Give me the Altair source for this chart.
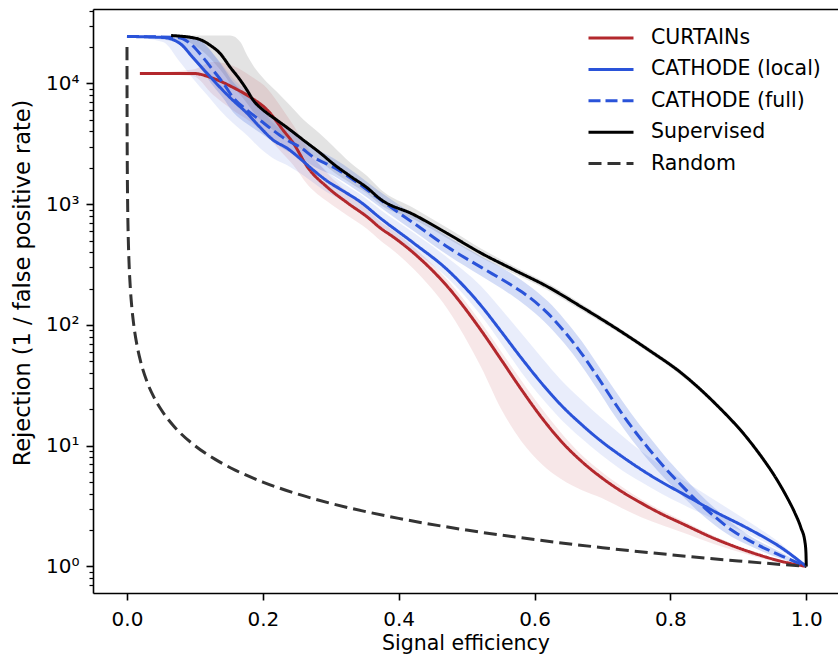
import altair as alt
import pandas as pd

# ---------------- data ----------------
series_names = ["CURTAINs", "CATHODE (local)", "CATHODE (full)", "Supervised", "Random"]
series_colors = ["#b3282d", "#2a53d9", "#2a53d9", "#000000", "#333333"]
series_dashes = [[1, 0], [1, 0], [12, 5], [1, 0], [13, 6]]

cur_eff = [0.019, 0.097, 0.127, 0.156, 0.182, 0.207, 0.230, 0.245, 0.266, 0.295,
           0.325, 0.354, 0.373, 0.393, 0.422, 0.472, 0.521, 0.551, 0.580, 0.610,
           0.639, 0.669, 0.698, 0.728, 0.757, 0.787, 0.816, 0.865, 0.915, 0.964, 1.0]
cur_rej = [12100, 12100, 11000, 9270, 7660, 5980, 4090, 3190, 2020, 1380,
           1020, 781, 634, 530, 394, 207, 90.6, 51.4, 29.5, 17.2,
           10.9, 7.43, 5.47, 4.18, 3.35, 2.72, 2.28, 1.70, 1.33, 1.10, 1.0]
cur_lo = [12100, 11500, 8000, 6000, 4800, 3600, 2600, 2100, 1450, 1050,
          800, 620, 500, 410, 290, 135, 45, 20, 11, 7.1,
          5.3, 4.3, 3.7, 3.05, 2.55, 2.2, 1.93, 1.53, 1.25, 1.07, 1.0]
cur_hi = [12100, 13000, 15000, 14000, 11500, 9000, 6000, 4500, 2900, 1800,
          1250, 900, 720, 600, 440, 235, 105, 60, 35, 20.5,
          12.8, 8.4, 6.1, 4.6, 3.6, 2.9, 2.42, 1.78, 1.38, 1.12, 1.0]

loc_eff = [0.0, 0.053, 0.078, 0.097, 0.118, 0.137, 0.156, 0.177, 0.196, 0.215,
           0.236, 0.255, 0.275, 0.295, 0.314, 0.344, 0.373, 0.422, 0.472, 0.521,
           0.551, 0.580, 0.610, 0.639, 0.669, 0.698, 0.728, 0.757, 0.787, 0.816,
           0.865, 0.915, 0.964, 1.0]
loc_rej = [24450, 24000, 21400, 16400, 12100, 9270, 7240, 5650, 4330, 3400,
           2900, 2380, 1900, 1550, 1330, 1040, 766, 476, 285, 145,
           88, 53.7, 33.1, 21.7, 15.0, 10.9, 8.19, 6.35, 5.0, 4.06,
           2.85, 2.05, 1.42, 1.0]
loc_lo = [24450, 22000, 15000, 11000, 8000, 6000, 4700, 3700, 2900, 2400,
          2100, 1800, 1500, 1250, 1100, 880, 660, 410, 245, 120,
          70, 41, 25, 16.5, 11.5, 8.4, 6.3, 5.0, 4.0, 3.3,
          2.45, 1.85, 1.33, 1.0]
loc_hi = [24450, 24450, 24450, 24450, 20000, 15000, 11000, 8500, 6300, 4700,
          3800, 3000, 2350, 1850, 1550, 1200, 900, 580, 360, 210,
          135, 86, 54, 35, 24, 17, 12.2, 9.0, 6.8, 5.3,
          3.55, 2.35, 1.52, 1.0]

full_eff = [0.0, 0.074, 0.093, 0.112, 0.127, 0.142, 0.156, 0.177, 0.196, 0.215,
            0.236, 0.255, 0.275, 0.304, 0.334, 0.354, 0.384, 0.422, 0.472, 0.521,
            0.570, 0.595, 0.620, 0.644, 0.669, 0.694, 0.717, 0.742, 0.768, 0.791,
            0.816, 0.841, 0.865, 0.890, 0.915, 0.964, 1.0]
full_rej = [24450, 24000, 21400, 16400, 12800, 10000, 7660, 5980, 4950, 4090,
            3380, 2960, 2440, 2020, 1580, 1310, 982, 697, 441, 301,
            206, 165, 124, 88, 58.2, 36.3, 23.0, 14.5, 9.44, 6.65,
            4.71, 3.41, 2.59, 2.0, 1.65, 1.22, 1.0]
full_lo = [24450, 22000, 17000, 12500, 9500, 7500, 5800, 4600, 3900, 3300,
           2750, 2450, 2050, 1720, 1350, 1130, 850, 600, 380, 255,
           170, 133, 99, 70, 46, 28.5, 18.0, 11.4, 7.5, 5.4,
           3.9, 2.85, 2.2, 1.76, 1.5, 1.15, 1.0]
full_hi = [24450, 24450, 24450, 22000, 17500, 13500, 10300, 8000, 6400, 5200,
           4200, 3600, 2950, 2400, 1850, 1520, 1140, 820, 540, 370,
           258, 205, 156, 111, 74, 46, 29.5, 18.6, 12.0, 8.3,
           5.8, 4.1, 3.05, 2.3, 1.82, 1.3, 1.0]

sup_eff = [0.065, 0.103, 0.123, 0.137, 0.152, 0.167, 0.177, 0.186, 0.201, 0.221,
           0.241, 0.260, 0.285, 0.304, 0.329, 0.354, 0.373, 0.422, 0.472, 0.521,
           0.570, 0.620, 0.669, 0.717, 0.768, 0.816, 0.865, 0.915, 0.934, 0.954,
           0.971, 0.983, 0.992, 0.998, 0.9995, 1.0]
sup_rej = [24900, 23500, 20600, 17700, 13600, 10600, 8750, 7240, 5980, 4950,
           4090, 3380, 2640, 2150, 1700, 1360, 1100, 820, 570, 394,
           285, 206, 141, 96, 62, 40, 22.6, 11.2, 8.1, 5.54,
           3.79, 2.79, 2.1, 1.6, 1.3, 1.0]
sup_lo = [24900, 20000, 16000, 13000, 10000, 8000, 6800, 5800, 4700, 3900,
          3300, 2800, 2250, 1850, 1500, 1220, 990, 750, 520, 362,
          265, 193, 132, 91, 59, 38, 21.6, 10.7, 7.7, 5.3,
          3.65, 2.68, 2.03, 1.56, 1.28, 1.0]
sup_hi = [24900, 24900, 24900, 24900, 24900, 22000, 17000, 14000, 11000, 8500,
          6500, 5000, 3800, 3000, 2200, 1700, 1330, 930, 635, 430,
          305, 220, 150, 101, 65, 42, 23.5, 11.7, 8.5, 5.8,
          3.95, 2.9, 2.18, 1.65, 1.32, 1.0]

rnd_eff = [0.00005, 0.0001, 0.0002, 0.0005, 0.001, 0.002, 0.003, 0.005, 0.007, 0.01,
           0.015, 0.02, 0.03, 0.04, 0.05, 0.07, 0.1, 0.13, 0.16, 0.2,
           0.25, 0.3, 0.4, 0.5, 0.6, 0.7, 0.8, 0.9, 1.0]
rnd_rej = [20000, 10000, 5000, 2000, 1000, 500, 333, 200, 143, 100,
           66.7, 50, 33.3, 25, 20, 14.3, 10, 7.7, 6.25, 5,
           4, 3.33, 2.5, 2, 1.67, 1.43, 1.25, 1.11, 1.0]

x_ticks = [0.0, 0.2, 0.4, 0.6, 0.8, 1.0]
y_ticks = [0.7, 0.8, 0.9, 1, 2, 3, 4, 5, 6, 7, 8, 9, 10, 20, 30, 40, 50, 60, 70, 80, 90,
           100, 200, 300, 400, 500, 600, 700, 800, 900, 1000, 2000, 3000, 4000, 5000,
           6000, 7000, 8000, 9000, 10000, 20000, 30000, 40000]

# ---------------- tables ----------------
line_parts = [
    ("CURTAINs", cur_eff, cur_rej),
    ("CATHODE (local)", loc_eff, loc_rej),
    ("CATHODE (full)", full_eff, full_rej),
    ("Supervised", sup_eff, sup_rej),
    ("Random", rnd_eff, rnd_rej),
]
lines_df = pd.concat(
    [pd.DataFrame({"series": n, "eff": e, "rej": r, "ord": range(len(e))}) for n, e, r in line_parts],
    ignore_index=True,
)

def band_df(e, lo, hi):
    return pd.DataFrame({"eff": e, "lo": lo, "hi": hi})

FONT = "DejaVu Sans"
xscale = alt.Scale(domain=[-0.05, 1.0467], nice=False, zero=False)
yscale = alt.Scale(type="log", domain=[0.6026, 41300], nice=False)

major_test = "indexof([1,10,100,1000,10000], datum.value) >= 0"

y_axis = alt.Axis(
    values=y_ticks,
    orient="left",
    labelExpr=("datum.value == 1 ? '10⁰' : datum.value == 10 ? '10¹' : "
               "datum.value == 100 ? '10²' : datum.value == 1000 ? '10³' : "
               "datum.value == 10000 ? '10⁴' : ''"),
    tickSize={"condition": {"test": major_test, "value": 7}, "value": 4},
    tickWidth={"condition": {"test": major_test, "value": 1.6}, "value": 1.2},
    tickColor="black",
    domainColor="black",
    domainWidth=1.6,
    grid=False,
    labelFont=FONT,
    labelFontSize=20,
    labelColor="black",
    labelPadding=7,
    labelOverlap=False,
    labelFlush=False,
    labelBound=False,
    labelBaseline="middle",
    title="Rejection (1 / false positive rate)",
    titleFont=FONT,
    titleFontSize=22.5,
    titleFontWeight="normal",
    titleColor="black",
    titleAngle=270,
    titleAlign="center",
    titleBaseline="alphabetic",
    titleX=-64,
    titleY=273.5,
)

x_axis = alt.Axis(
    values=x_ticks,
    format=".1f",
    orient="bottom",
    tickSize=7,
    tickWidth=1.6,
    tickColor="black",
    domainColor="black",
    domainWidth=1.6,
    grid=False,
    labelFont=FONT,
    labelFontSize=20,
    labelColor="black",
    labelPadding=9,
    labelFlush=False,
    title="Signal efficiency",
    titleFont=FONT,
    titleFontSize=20.5,
    titleFontWeight="normal",
    titleColor="black",
    titleBaseline="alphabetic",
    titleY=56,
)

top_axis = alt.Axis(orient="top", labels=False, ticks=False, title=None, grid=False,
                    domainColor="black", domainWidth=1.6)

band_specs = [
    (band_df(sup_eff, sup_lo, sup_hi), "#000000", 0.11, top_axis),
    (band_df(cur_eff, cur_lo, cur_hi), "#b3282d", 0.11, None),
    (band_df(loc_eff, loc_lo, loc_hi), "#2a53d9", 0.10, None),
    (band_df(full_eff, full_lo, full_hi), "#2a53d9", 0.20, None),
]
bands = []
for df, col, op, ax in band_specs:
    bands.append(
        alt.Chart(df).mark_area(color=col, opacity=op, interpolate="monotone").encode(
            x=alt.X("eff:Q", scale=xscale, axis=ax),
            y=alt.Y("lo:Q", scale=yscale, axis=None),
            y2="hi:Q",
        )
    )

legend = alt.Legend(
    title=None, orient="none", legendX=494, legendY=19,
    symbolType="stroke", symbolSize=2025, symbolStrokeWidth=3,
    clipHeight=20, rowPadding=10.4, padding=0,
    labelFont=FONT, labelFontSize=20.5, labelColor="black",
    labelOffset=16, labelLimit=400,
)

lines = alt.Chart(lines_df).mark_line(strokeWidth=3, interpolate="monotone").encode(
    x=alt.X("eff:Q", scale=xscale, axis=x_axis),
    y=alt.Y("rej:Q", scale=yscale, axis=y_axis),
    color=alt.Color("series:N", scale=alt.Scale(domain=series_names, range=series_colors), legend=legend),
    strokeDash=alt.StrokeDash("series:N", scale=alt.Scale(domain=series_names, range=series_dashes), legend=legend),
    order="ord:Q",
)

chart = alt.layer(*bands, lines).resolve_axis(x="independent", y="independent").properties(
    width=745,
    height=584,
    padding={"left": 93, "top": 9, "right": 0, "bottom": 66},
    autosize=alt.AutoSizeParams(type="none"),
).configure_view(stroke=None).configure(background="white")

chart.save("out.html", embed_options={"renderer": "svg", "actions": False})
